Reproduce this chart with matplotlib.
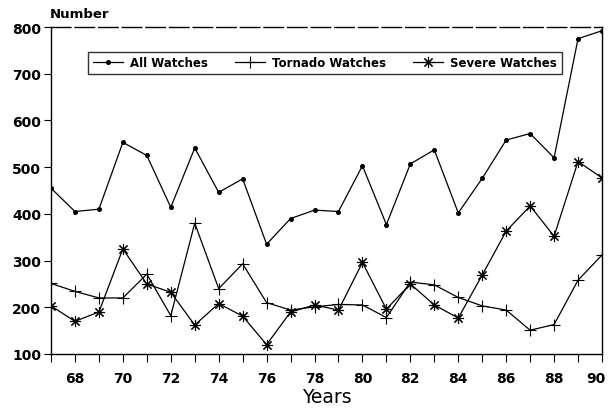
import matplotlib
matplotlib.use("Agg")
import matplotlib.pyplot as plt
from matplotlib.transforms import ScaledTranslation

years = list(range(67, 91))
all_watches = [455, 405, 410, 553, 525, 414, 541, 446, 475, 335, 390, 408, 405,
               503, 377, 507, 537, 402, 476, 558, 572, 520, 775, 792]
tornado_watches = [251, 234, 220, 220, 271, 182, 380, 240, 293, 210, 194, 201, 206,
                   205, 178, 254, 248, 221, 203, 194, 151, 163, 258, 312]
severe_watches = [203, 170, 190, 325, 250, 232, 162, 208, 181, 120, 190, 205, 194,
                  296, 196, 250, 205, 177, 269, 363, 417, 352, 512, 477]
x_ticks = list(range(68, 91, 2))
y_ticks = [100, 200, 300, 400, 500, 600, 700, 800]

fig = plt.figure(figsize=(6.10, 4.14), dpi=100)
ax = fig.add_axes([51 / 610, 1 - 355 / 414, 551 / 610, 327 / 414])

lw = 0.9
ax.plot(years, all_watches, color="black", lw=lw, marker="o", markersize=2.6,
        label="All Watches")
ax.plot(years, tornado_watches, color="black", lw=lw, marker="+", markersize=9,
        markeredgewidth=0.8, label="Tornado Watches")
ax.plot(years, severe_watches, color="black", lw=lw, marker=(8, 2, 0), markersize=8,
        markeredgewidth=0.8, label="Severe Watches")

ax.set_xlim(67, 90)
ax.set_ylim(100, 800)
ax.set_xticks(list(range(67, 91)), minor=True)
ax.set_xticks(x_ticks)
ax.set_yticks(y_ticks)
ax.tick_params(axis="both", which="both", direction="out", colors="black")
ax.tick_params(axis="x", which="both", length=6, width=0.8, pad=6)
ax.tick_params(axis="y", which="major", length=5, width=0.8, pad=2)

for lab in ax.get_xticklabels() + ax.get_yticklabels():
    lab.set_fontfamily("DejaVu Sans")
    lab.set_fontweight("bold")
    lab.set_fontsize(10)

last = ax.get_xticklabels()[-1]
last.set_transform(last.get_transform() + ScaledTranslation(-6 / 100, 0, fig.dpi_scale_trans))

for side in ["left", "right", "bottom", "top"]:
    ax.spines[side].set_linewidth(1.0)
    ax.spines[side].set_color("black")
ax.spines["top"].set_linestyle((0, (14, 3)))

ax.set_xlabel("Years", fontfamily="DejaVu Sans", fontsize=13.5, labelpad=2)
fig.text(50 / 610, 1 - 14 / 414, "Number", fontfamily="DejaVu Sans",
         fontweight="bold", fontsize=9.5, ha="left", va="center")

leg = ax.legend(loc="center", ncol=3, mode="expand",
                bbox_to_anchor=(0.067, 0.832, 0.86, 0.116),
                frameon=True, fancybox=False, edgecolor="black",
                handlelength=2.6, handletextpad=0.6, borderaxespad=0,
                prop={"family": "DejaVu Sans", "weight": "bold", "size": 8.5})
leg.get_frame().set_linewidth(1.0)

fig.savefig("out.png", dpi=100, facecolor="white")
